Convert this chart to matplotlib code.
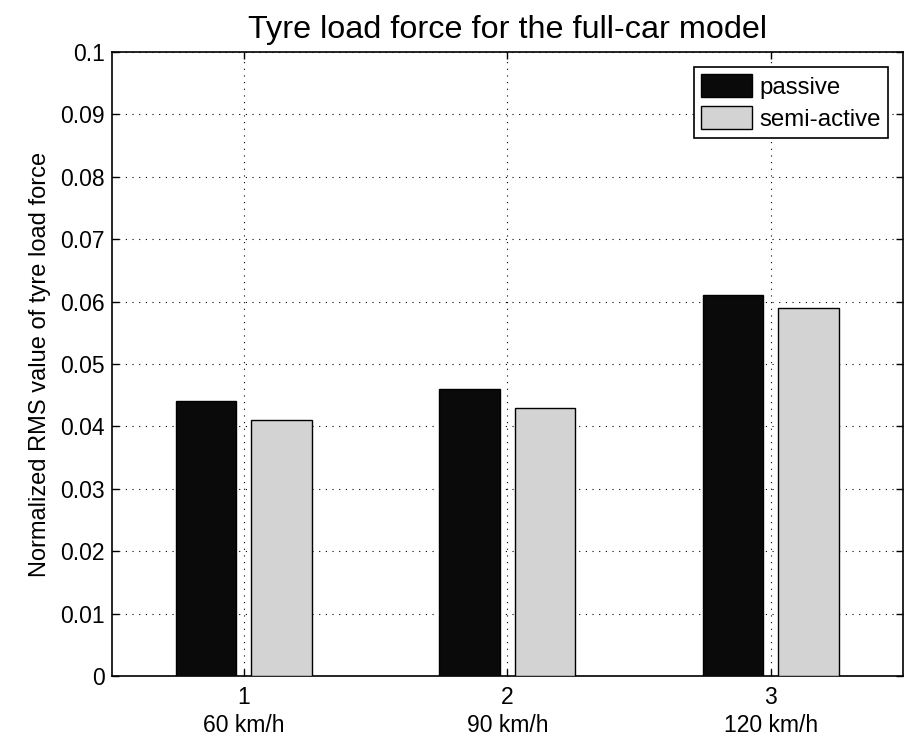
import numpy as np
import matplotlib
matplotlib.use('Agg')
import matplotlib.pyplot as plt

plt.rcParams['font.family'] = ['Liberation Sans', 'DejaVu Sans']

# data
groups = [1, 2, 3]
speed_labels = ['60 km/h', '90 km/h', '120 km/h']
passive = [0.044, 0.046, 0.061]
semi_active = [0.041, 0.043, 0.059]

fig = plt.figure(figsize=(9.1, 7.42), dpi=100)
ax = fig.add_axes([0.123, 0.089, 0.869, 0.841])

x = np.array(groups, dtype=float)
w = 0.229
off = 0.143
ax.bar(x - off, passive, w, color='#0a0a0a', edgecolor='black', linewidth=1.0,
       label='passive', zorder=3)
ax.bar(x + off, semi_active, w, color='#d3d3d3', edgecolor='black', linewidth=1.0,
       label='semi-active', zorder=3)

ax.set_xlim(0.5, 3.5)
ax.set_ylim(0, 0.1)
ax.set_yticks(np.arange(0, 0.1001, 0.01))
ax.set_yticklabels(['0'] + ['%.2f' % v for v in np.arange(0.01, 0.1001, 0.01)][:-1] + ['0.1'])
ax.set_xticks(x)
ax.set_xticklabels(['%d\n%s' % (g, s) for g, s in zip(groups, speed_labels)])
for t in ax.get_xticklabels():
    t.set_linespacing(1.3)

ax.tick_params(direction='in', length=5, labelsize=16.5, top=True, right=True, width=1)
ax.tick_params(axis='x', pad=7)
ax.tick_params(axis='y', pad=5)
ax.grid(True, linestyle=(0, (1, 5)), color='black', linewidth=0.8, zorder=0)
for sp in ax.spines.values():
    sp.set_linewidth(1.2)

ax.set_ylabel('Normalized RMS value of tyre load force', fontsize=17, labelpad=7)
ax.set_title('Tyre load force for the full-car model', fontsize=23.3, pad=10)

leg = ax.legend(loc='upper right', fontsize=17.3, fancybox=False, framealpha=1,
                edgecolor='black', handlelength=2.1, handleheight=1.1,
                borderaxespad=0.62, labelspacing=0.3, handletextpad=0.3,
                borderpad=0.3)
leg.get_frame().set_linewidth(1.2)

fig.savefig('out.png', dpi=100)
